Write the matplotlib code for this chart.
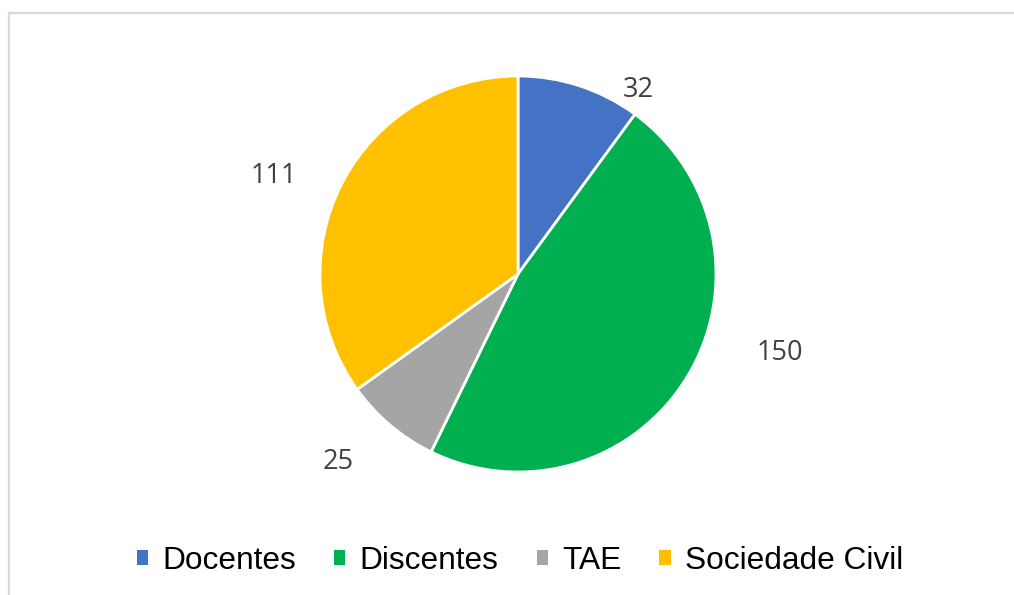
import matplotlib
matplotlib.use("Agg")
import matplotlib.pyplot as plt
from matplotlib.patches import Patch
from matplotlib.lines import Line2D

categories = ["Docentes", "Discentes", "TAE", "Sociedade Civil"]
values = [32, 150, 25, 111]
colors = ["#4472C4", "#00B050", "#A5A5A5", "#FFC000"]

# label anchor positions, in units of the pie radius relative to its centre
label_pos = [(0.609, 0.894), (1.321, -0.432), (-0.907, -0.985), (-1.235, 0.46)]

W, H = 1014, 595
fig = plt.figure(figsize=(W / 100, H / 100), dpi=100)
ax = fig.add_axes([0, 0, 1, 1])

cx, cy, R = 518, H - 274, 198
wedges, _ = ax.pie(values, colors=colors, startangle=90, counterclock=False,
                   center=(cx, cy), radius=R,
                   wedgeprops=dict(edgecolor="white", linewidth=2.0))
ax.set_xlim(0, W)
ax.set_ylim(0, H)
ax.set_aspect("equal", adjustable="box")
ax.axis("off")

for v, (px, py) in zip(values, label_pos):
    ax.text(cx + px * R, cy + py * R, str(v), ha="center", va="baseline",
            fontsize=19.5, color="#404040", family=["Open Sans", "DejaVu Sans"])

# chart frame (top and left edges visible)
fig.add_artist(Line2D([8.5 / W, 1.0], [1 - 13 / H, 1 - 13 / H],
                      transform=fig.transFigure, color="#D9D9D9", lw=1.6))
fig.add_artist(Line2D([8.5 / W, 8.5 / W], [0, 1 - 13 / H],
                      transform=fig.transFigure, color="#D9D9D9", lw=1.6))

handles = [Patch(facecolor=c, edgecolor="none") for c in colors]
leg = fig.legend(handles, categories, loc="center", ncol=4, frameon=False,
                 bbox_to_anchor=(520 / W, 1 - 561 / H),
                 prop=dict(family=["Liberation Sans", "DejaVu Sans"], size=22.8),
                 handlelength=0.36, handleheight=0.36, handletextpad=0.45,
                 columnspacing=1.2, borderpad=0, borderaxespad=0)

fig.savefig("out.png", dpi=100, facecolor="white")
